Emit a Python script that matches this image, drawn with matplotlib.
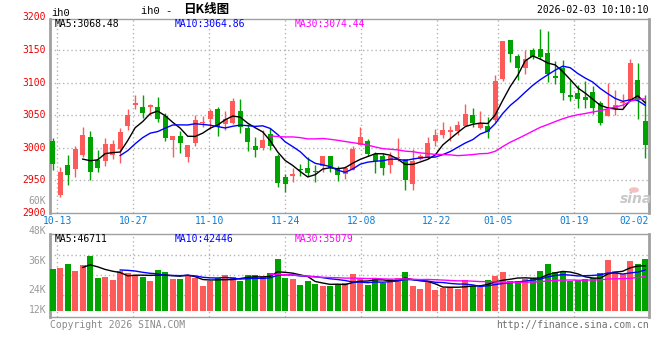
import numpy as np
import matplotlib
matplotlib.use("Agg")
import matplotlib.pyplot as plt
from matplotlib import transforms

# daily candles, 2025-10-13 .. 2026-02-03
opens = [3009.8, 2928.3, 2973.2, 2967.5, 2989.7, 3016.5, 2980.9, 2979.9, 2988.7, 2997.9,
         3033.5, 3064.9, 3062.9, 3061.9, 3062.9, 3049.5, 3012.4, 3017.5, 2986.1, 3007.7,
         3037.6, 3044.3, 3059.8, 3036.1, 3038.7, 3056.7, 3030.9, 3002.6, 2999.5, 3020.6,
         2987.1, 2955.1, 2956.2, 2967.5, 2969.1, 2964.4, 2972.2, 2987.1, 2969.6, 2960.3,
         2966.0, 3004.1, 3010.3, 2991.2, 2987.1, 2973.7, 2984.0, 2982.5, 2943.8, 2982.5,
         2984.5, 3010.3, 3019.6, 3024.7, 3025.8, 3034.0, 3050.5, 3030.4, 3033.5, 3042.0,
         3105.0, 3166.0, 3140.8, 3122.4, 3149.5, 3151.0, 3144.9, 3109.7, 3121.9, 3081.6,
         3083.7, 3077.6, 3085.7, 3069.4, 3049.0, 3059.2, 3068.4, 3073.5, 3103.6, 3040.8]
closes = [2975.2, 2962.4, 2958.2, 2997.9, 3019.6, 2962.9, 2969.1, 3005.7, 3005.7, 3024.2,
          3050.5, 3068.0, 3052.6, 3066.0, 3044.3, 3015.0, 3017.5, 3007.7, 3004.1, 3042.8,
          3040.2, 3055.7, 3032.0, 3044.3, 3071.1, 3032.0, 3009.3, 2996.9, 3012.4, 3003.1,
          2945.9, 2943.8, 2959.3, 2966.0, 2961.3, 2963.4, 2987.1, 2969.1, 2958.2, 2969.6,
          2997.9, 3016.5, 2990.7, 2979.9, 2969.1, 2987.1, 2986.0, 2950.5, 2979.9, 2987.6,
          3007.2, 3019.6, 3027.3, 3027.8, 3035.1, 3052.1, 3038.1, 3036.1, 3024.7, 3102.0,
          3163.0, 3144.0, 3122.4, 3135.7, 3139.3, 3138.8, 3113.8, 3107.7, 3084.7, 3078.6,
          3074.5, 3073.5, 3061.2, 3037.8, 3059.2, 3065.3, 3070.4, 3130.6, 3073.5, 3004.6]
highs = [3015.0, 2970.6, 2989.7, 3002.1, 3032.0, 3026.3, 2996.9, 3015.0, 3011.8, 3029.9,
         3058.8, 3081.4, 3080.4, 3067.0, 3077.3, 3053.6, 3017.5, 3025.8, 3004.1, 3050.5,
         3049.5, 3058.8, 3062.9, 3056.7, 3076.3, 3074.2, 3036.1, 3016.5, 3026.8, 3030.9,
         2990.7, 2960.3, 2969.6, 2974.7, 2986.6, 2973.7, 2987.1, 2987.1, 2972.2, 2972.2,
         3003.1, 3031.4, 3013.4, 2994.3, 2992.3, 2992.8, 3014.5, 2983.5, 2997.9, 2990.0,
         3016.5, 3028.9, 3039.7, 3034.0, 3041.8, 3067.5, 3061.3, 3055.7, 3046.9, 3112.0,
         3163.0, 3166.0, 3143.9, 3150.0, 3153.0, 3181.6, 3178.6, 3133.2, 3134.2, 3103.6,
         3096.4, 3103.1, 3094.9, 3071.9, 3100.0, 3088.8, 3082.1, 3136.7, 3129.6, 3081.6]
lows = [2966.0, 2924.2, 2942.3, 2955.1, 2986.6, 2950.5, 2962.9, 2972.2, 2982.5, 2977.3,
        3026.8, 3058.8, 3046.4, 3051.0, 3039.2, 3010.8, 2985.6, 2991.7, 2978.3, 3002.1,
        3031.4, 3028.9, 3018.6, 3026.8, 3036.1, 3022.7, 2995.4, 2986.1, 2996.9, 2996.9,
        2939.7, 2932.9, 2947.4, 2956.7, 2956.7, 2947.9, 2963.4, 2963.4, 2949.0, 2951.5,
        2966.0, 3004.1, 2987.6, 2961.8, 2958.8, 2960.8, 2980.0, 2935.0, 2935.0, 2981.0,
        2984.5, 3003.1, 3015.5, 3010.8, 3019.6, 3034.0, 3031.4, 3028.9, 3015.5, 3040.0,
        3103.0, 3131.6, 3104.1, 3112.8, 3136.7, 3136.7, 3101.0, 3097.4, 3073.5, 3071.9,
        3060.7, 3060.7, 3051.5, 3034.7, 3048.0, 3050.0, 3059.2, 3073.5, 3044.9, 2983.7]
# volume in thousands of lots
volumes = [44.2, 45.2, 49.5, 42.0, 48.4, 57.9, 34.6, 35.7, 32.5, 41.7,
           40.3, 37.8, 36.0, 31.4, 43.1, 41.0, 33.9, 33.6, 36.7, 35.0,
           26.1, 31.1, 34.6, 37.5, 35.7, 31.4, 37.5, 37.5, 36.4, 39.9,
           54.8, 34.6, 33.2, 27.2, 31.4, 28.3, 26.5, 26.1, 28.3, 29.3,
           38.9, 33.6, 27.2, 34.6, 29.3, 33.6, 34.6, 41.0, 26.1, 23.0,
           30.4, 21.9, 24.0, 25.1, 23.0, 32.5, 26.1, 25.1, 32.5, 36.7,
           41.0, 31.4, 31.4, 33.6, 34.6, 42.0, 49.5, 41.0, 41.0, 31.4,
           32.5, 33.6, 34.6, 39.9, 53.7, 42.0, 38.9, 52.6, 49.5, 54.8]

date_labels = ["10-13", "10-27", "11-10", "11-24", "12-08", "12-22", "01-05", "01-19", "02-02"]
date_idx = [0, 10, 20, 30, 40, 50, 58, 68, 78]
price_ticks = [3200, 3150, 3100, 3050, 3000, 2950, 2900]
price_ma_text = ["MA5:3068.48", "MA10:3064.86", "MA30:3074.44"]
vol_ma_text = ["MA5:46711", "MA10:42446", "MA30:35079"]
vol_side_labels = ["60K", "48K", "36K", "24K", "12K"]

RED = "#ff5a5a"
GREEN = "#00a200"
GRID = "#b4b4b4"
FRAME = "#a0a0a0"
BLUE_TXT = "#0a7cd4"
MONO = "DejaVu Sans Mono"

W, H = 660, 360


def fpos(x, y):
    return x / W, 1 - y / H


def rolling(vals, n):
    v = np.asarray(vals, dtype=float)
    out = np.full(len(v), np.nan)
    c = np.cumsum(np.insert(v, 0, 0))
    out[n - 1:] = (c[n:] - c[:-n]) / n
    return out


fig = plt.figure(figsize=(6.6, 3.6), dpi=100)
fig.patch.set_facecolor("white")

# axes boxes in pixels: left 50, right 649
ax = fig.add_axes([50 / W, 1 - 213 / H, 599 / W, 194 / H])
axv = fig.add_axes([50 / W, 1 - 317 / H, 599 / W, 83 / H])

n = len(closes)
x = np.arange(n)
o = np.array(opens)
c = np.array(closes)
up = c >= o
cols = np.where(up, RED, GREEN)

xlim = (-0.36, 79.5)
# gridline shift (grid pitch is a touch wider than candle pitch)
grid_x = [i + 0.6 + i * 0.0128 for i in date_idx]

# ---- price panel
ax.vlines(x, lows, highs, colors=cols, lw=1, zorder=3)
body = np.maximum(np.abs(c - o), 1.0)
ax.bar(x, body, bottom=np.minimum(o, c), width=0.72, color=cols, zorder=4, linewidth=0)
ax.plot(x, rolling(closes, 5), color="black", lw=1, zorder=5)
ax.plot(x, rolling(closes, 10), color="#0000ff", lw=1, zorder=5)
ax.plot(x, rolling(closes, 30), color="#ff00ff", lw=1, zorder=5)

ax.set_xlim(*xlim)
ax.set_ylim(2900, 3197.5)
for p in price_ticks[1:-1]:
    ax.axhline(p, color=GRID, lw=1, ls=(0, (1, 2)), zorder=1)
for g in grid_x[:-1]:
    ax.axvline(g, color=GRID, lw=1, ls=(0, (1, 2)), zorder=1)

tr = transforms.blended_transform_factory(ax.transAxes, ax.transData)
for p in price_ticks:
    ax.text(-4 / 599, p, str(p), transform=tr, ha="right", va="center",
            color="#ee0000", fontsize=7, family=MONO, clip_on=False)

# ---- volume panel (baseline sits a few px above the frame bottom)
axv.bar(x, volumes, width=0.8, color=cols, linewidth=0, zorder=3)
axv.plot(x, rolling(volumes, 5), color="black", lw=1, zorder=5)
axv.plot(x, rolling(volumes, 10), color="#0000ff", lw=1, zorder=5)
axv.plot(x, rolling(volumes, 30), color="#ff00ff", lw=1, zorder=5)
axv.set_xlim(*xlim)
axv.set_ylim(-6.7, 81.3)
for v in (58.6, 37.4, 16.2):
    axv.axhline(v, color=GRID, lw=1, ls=(0, (1, 2)), zorder=1)
for g in grid_x[:-1]:
    axv.axvline(g, color=GRID, lw=1, ls=(0, (1, 2)), zorder=1)

for a in (ax, axv):
    a.set_xticks([])
    a.set_yticks([])
    for s in a.spines.values():
        s.set_color(FRAME)
        s.set_linewidth(1)
    a.spines["left"].set_linewidth(2)
    a.spines["right"].set_linewidth(2)

# date labels
trx = transforms.blended_transform_factory(ax.transData, fig.transFigure)
for g, lab in zip(grid_x[:-1], date_labels[:-1]):
    ax.text(g, 1 - 221.5 / H, lab, transform=trx, ha="center", va="center",
            color=BLUE_TXT, fontsize=7, family=MONO, clip_on=False)
fig.text(649 / W, 1 - 221.5 / H, date_labels[-1], ha="right", va="center",
         color=BLUE_TXT, fontsize=7, family=MONO)

# MA legends
for (txt, col, xp) in zip(price_ma_text, ["black", "#0000ff", "#ff00ff"], [55, 175, 295]):
    fig.text(*fpos(xp, 24), txt, ha="left", va="center", color=col, fontsize=7, family=MONO)
for (txt, col, xp) in zip(vol_ma_text, ["black", "#0000ff", "#ff00ff"], [55, 175, 295]):
    fig.text(*fpos(xp, 239), txt, ha="left", va="center", color=col, fontsize=7, family=MONO)

# volume side labels
for lab, yp in zip(vol_side_labels, [201, 230.7, 260.7, 290, 310]):
    fig.text(*fpos(46, yp), lab, ha="right", va="center", color="#9a9a9a", fontsize=7, family=MONO)

# header
fig.text(*fpos(51, 12.5), "ih0", ha="left", va="center", fontsize=7.5, family="Liberation Mono")
fig.text(*fpos(141, 10.5), "ih0 -", ha="left", va="center", fontsize=7.5, family="Liberation Mono")
fig.text(*fpos(183, 10), "日K线图", ha="left", va="center", fontsize=9, fontweight="bold",
         family=["Noto Sans CJK SC", "DejaVu Sans"])
fig.text(*fpos(649, 10), "2026-02-03 10:10:10", ha="right", va="center", fontsize=7, family=MONO)

# footer
fig.text(*fpos(50, 325), "Copyright 2026 SINA.COM", ha="left", va="center",
         color="#8a8a8a", fontsize=7, family=MONO)
fig.text(*fpos(649, 325), "http://finance.sina.com.cn", ha="right", va="center",
         color="#707070", fontsize=7, family=MONO)

# watermark
fig.text(*fpos(636, 199), "sina", ha="center", va="center", color="#c8c8c8",
         fontsize=10, fontweight="bold", style="italic", family="DejaVu Sans")
fig.patches.append(plt.Circle(fpos(634, 190), 5 / W, transform=fig.transFigure,
                              facecolor="#f4c0c0", edgecolor="none"))

fig.savefig("out.png", dpi=100, facecolor="white")
